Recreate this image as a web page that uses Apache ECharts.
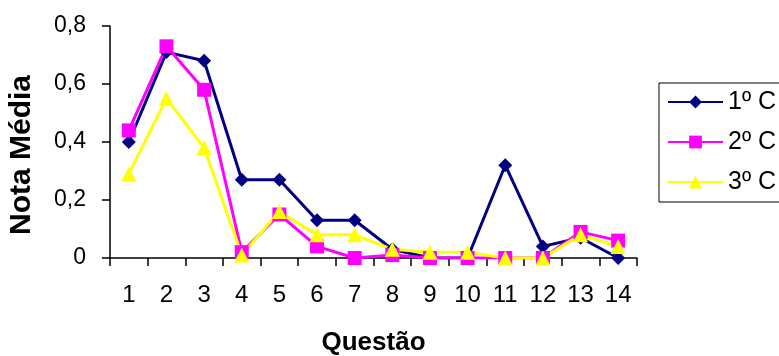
<!DOCTYPE html>
<html>
<head>
<meta charset="utf-8">
<script src="https://cdn.jsdelivr.net/npm/echarts@6/dist/echarts.min.js"></script>
<style>
  html, body { margin: 0; padding: 0; background: #fff; }
  #chart { width: 779px; height: 356px; }
</style>
</head>
<body>
<div id="chart"></div>
<script>
// Question numbers along the x axis
const questions = ['1','2','3','4','5','6','7','8','9','10','11','12','13','14'];
// Average grade per question, one series per class
const turma1 = [0.40, 0.71, 0.68, 0.27, 0.27, 0.13, 0.13, 0.03, 0.00, 0.00, 0.32, 0.04, 0.07, 0.00];
const turma2 = [0.44, 0.73, 0.58, 0.02, 0.15, 0.04, 0.00, 0.01, 0.00, 0.00, 0.00, 0.00, 0.09, 0.06];
const turma3 = [0.29, 0.55, 0.38, 0.01, 0.16, 0.08, 0.08, 0.03, 0.02, 0.02, 0.00, 0.00, 0.08, 0.04];
const seriesNames = ['1º C', '2º C', '3º C'];

const FONT = 'Liberation Sans, Arial, sans-serif';
const chart = echarts.init(document.getElementById('chart'), null, { renderer: 'canvas' });

function lineSeries(name, data, color, symbol, size) {
  return {
    name: name,
    type: 'line',
    data: data,
    symbol: symbol,
    symbolSize: size,
    showAllSymbol: true,
    lineStyle: { color: color, width: 3 },
    itemStyle: { color: color, borderWidth: 0 },
    emphasis: { disabled: true },
    animation: false
  };
}

chart.setOption({
  backgroundColor: '#ffffff',
  animation: false,
  textStyle: { fontFamily: FONT },
  grid: {
    left: 110, top: 26, width: 527, height: 232,
    containLabel: false, outerBoundsMode: 'none'
  },
  legend: {
    orient: 'vertical',
    left: 659,
    top: 83,
    itemWidth: 55,
    itemHeight: 16,
    itemGap: 14,
    padding: [6, 60, 7, 8],
    borderColor: '#000',
    borderWidth: 1,
    textStyle: { fontFamily: FONT, fontSize: 25, lineHeight: 26, color: '#000' },
    data: seriesNames
  },
  xAxis: {
    type: 'category',
    data: questions,
    boundaryGap: true,
    name: 'Questão',
    nameLocation: 'middle',
    nameGap: 72,
    nameTextStyle: { fontFamily: FONT, fontSize: 26, fontWeight: 'bold', color: '#000' },
    axisLine: { lineStyle: { color: '#000', width: 1.5 } },
    axisTick: { show: true, length: 8, interval: 0, lineStyle: { color: '#000', width: 1.5 } },
    axisLabel: { fontFamily: FONT, fontSize: 24, color: '#000', margin: 25, interval: 0 },
    splitLine: { show: false }
  },
  yAxis: {
    type: 'value',
    min: 0,
    max: 0.8,
    interval: 0.2,
    name: 'Nota Média',
    nameLocation: 'middle',
    nameGap: 73,
    nameRotate: 90,
    nameTextStyle: {
      fontFamily: FONT, fontSize: 30, fontWeight: 'bold', color: '#000',
      padding: [0, 26, 0, 0]
    },
    axisLine: { show: true, lineStyle: { color: '#000', width: 1.5 } },
    axisTick: { show: true, length: 8, lineStyle: { color: '#000', width: 1.5 } },
    axisLabel: {
      fontFamily: FONT, fontSize: 23, color: '#000', margin: 24,
      formatter: v => (v === 0 ? '0' : v.toFixed(1).replace('.', ','))
    },
    splitLine: { show: false }
  },
  series: [
    lineSeries(seriesNames[0], turma1, '#000080', 'diamond', 14),
    lineSeries(seriesNames[1], turma2, '#ff00ff', 'rect', 14),
    lineSeries(seriesNames[2], turma3, '#ffff00', 'triangle', 15)
  ]
});
</script>
</body>
</html>
